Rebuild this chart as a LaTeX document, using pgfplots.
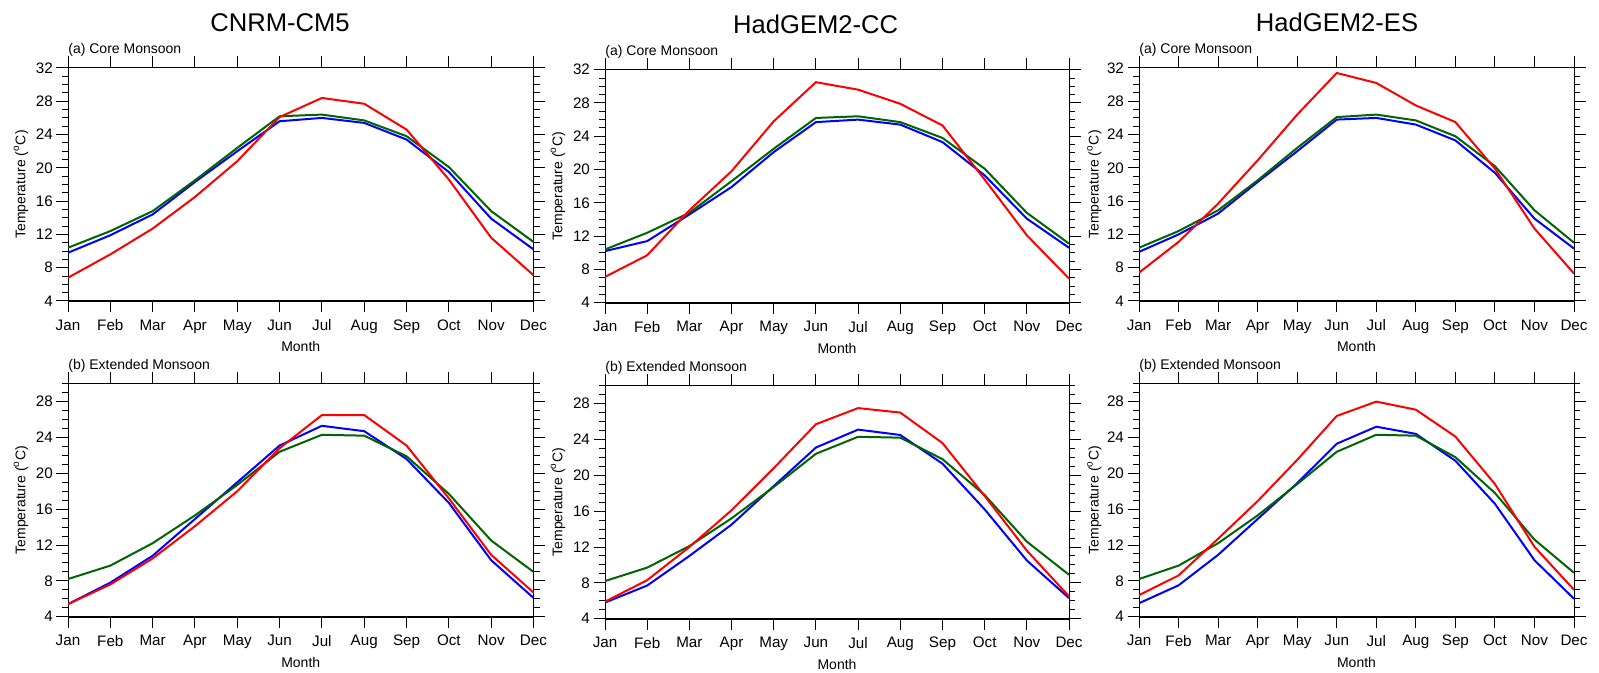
\documentclass[border=0pt]{standalone}
\usepackage{pgfplots}
\pgfplotsset{compat=1.18}
\usepackage{pgfplotstable}
\usepackage{fontspec}
\setmainfont{Liberation Sans}

\definecolor{obsgreen}{RGB}{0,100,0}

% Monthly mean temperature (deg C): columns red, green, blue series
\pgfplotstableread{
m red green blue
1  6.8 10.4  9.8
2  9.6 12.4 11.9
3 12.7 14.8 14.4
4 16.5 18.5 18.3
5 20.8 22.4 22.0
6 26.1 26.2 25.6
7 28.4 26.4 26.0
8 27.7 25.7 25.4
9 24.6 23.8 23.4
10 18.6 20.1 19.5
11 11.6 14.8 13.9
12 7.1 11.1 10.2
}\cnrmcore
\pgfplotstableread{
m red green blue
1  7.1 10.4 10.2
2  9.7 12.4 11.4
3 15.1 14.8 14.6
4 19.8 18.6 17.9
5 25.8 22.5 22.1
6 30.5 26.2 25.7
7 29.6 26.4 26.0
8 27.9 25.7 25.4
9 25.3 23.8 23.3
10 18.8 20.1 19.3
11 12.1 14.8 14.1
12 6.9 11.1 10.6
}\cccore
\pgfplotstableread{
m red green blue
1  7.4 10.4  9.9
2 11.1 12.4 12.0
3 15.7 14.9 14.5
4 20.9 18.5 18.3
5 26.4 22.4 22.0
6 31.4 26.1 25.8
7 30.2 26.4 26.0
8 27.5 25.7 25.2
9 25.5 23.8 23.3
10 19.9 20.2 19.4
11 12.7 14.9 13.9
12 7.3 11.0 10.3
}\escore
\pgfplotstableread{
m red green blue
1  5.4  8.2  5.4
2  7.6  9.7  7.8
3 10.5 12.2 10.8
4 14.1 15.3 14.9
5 18.0 18.7 19.0
6 22.8 22.4 23.1
7 26.5 24.3 25.3
8 26.5 24.2 24.7
9 23.1 21.9 21.6
10 17.2 17.7 16.7
11 10.9 12.5 10.3
12 6.7  9.0  6.1
}\cnrmext
\pgfplotstableread{
m red green blue
1  5.9  8.2  5.8
2  8.3  9.7  7.7
3 12.0 12.1 11.0
4 16.1 15.2 14.5
5 20.8 18.7 18.8
6 25.7 22.4 23.1
7 27.5 24.3 25.1
8 27.0 24.2 24.5
9 23.6 21.8 21.3
10 17.7 17.8 16.2
11 11.6 12.6 10.5
12 6.5  8.9  6.3
}\ccext
\pgfplotstableread{
m red green blue
1  6.4  8.2  5.5
2  8.6  9.7  7.5
3 12.7 12.2 10.9
4 16.9 15.3 14.9
5 21.5 18.8 18.9
6 26.4 22.4 23.3
7 28.0 24.3 25.2
8 27.1 24.2 24.4
9 24.1 21.8 21.4
10 18.8 17.8 16.6
11 11.8 12.6 10.3
12 7.0  8.9  6.0
}\esext

\pgfplotsset{
  monsoon/.style={
    scale only axis,
    height=116.5pt,
    xmin=1, xmax=12,
    xtick={1,...,12},
    xticklabels={Jan,Feb,Mar,Apr,May,Jun,Jul,Aug,Sep,Oct,Nov,Dec},
    ymin=4,
    tick align=outside,
    major tick length=5.75pt,
    minor tick length=3pt,
    tick style={black, line width=0.5pt},
    axis line style={line width=0.5pt},
    tick label style={font=\fontsize{7.6}{9}\selectfont},
    /pgf/number format/assume math mode=true,
    yticklabel style={inner sep=0pt, xshift=-1.6pt},
    xlabel={Month},
    ylabel={Temperature (\textsuperscript{o}C)},
    every axis x label/.style={at={(axis description cs:0.5,0)}, anchor=base, yshift=-25.5pt, font=\fontsize{7}{8}\selectfont},
    every axis y label/.style={at={(axis description cs:0,0.5)}, xshift=-23.5pt, rotate=90, anchor=center, font=\fontsize{7}{8}\selectfont},
    every axis title/.style={at={(axis description cs:0,1)}, anchor=base west, inner sep=0pt, yshift=7.3pt, font=\fontsize{7}{8}\selectfont},
    every axis plot/.append style={line width=1pt, mark=none},
    after end axis/.code={\draw[line width=1.1pt, black] (rel axis cs:0,0) -- (rel axis cs:1,0);},
  },
  corerow/.style={monsoon, ymax=32, ytick={4,8,...,32}, minor ytick={4,...,32}, title={(a) Core Monsoon}},
  extrow/.style={monsoon, ymax=30, ytick={4,8,...,28}, minor ytick={4,...,30}, title={(b) Extended Monsoon}},
}

\newcommand{\threelines}[1]{%
  \addplot[blue] table[x=m, y=blue] {#1};
  \addplot[obsgreen] table[x=m, y=green] {#1};
  \addplot[red] table[x=m, y=red] {#1};
}

\begin{document}
\begin{tikzpicture}
\useasboundingbox (0pt,0pt) rectangle (799.5pt,336.5pt);

% model names above each column
\node[anchor=base, inner sep=0pt, font=\fontsize{12.8}{14}\selectfont] at (140pt,320.65pt) {CNRM-CM5};
\node[anchor=base, inner sep=0pt, font=\fontsize{12.8}{14}\selectfont] at (407.85pt,319.5pt) {HadGEM2-CC};
\node[anchor=base, inner sep=0pt, font=\fontsize{12.8}{14}\selectfont] at (668.5pt,320.65pt) {HadGEM2-ES};

% CNRM-CM5
\begin{axis}[corerow, at={(34pt,186pt)}, anchor=south west, width=232.75pt]
\threelines{\cnrmcore}
\end{axis}
\begin{axis}[extrow, at={(34pt,28.15pt)}, anchor=south west, width=232.75pt]
\threelines{\cnrmext}
\end{axis}

% HadGEM2-CC
\begin{axis}[corerow, at={(302.5pt,185.15pt)}, anchor=south west, width=232pt]
\threelines{\cccore}
\end{axis}
\begin{axis}[extrow, at={(302.5pt,27.15pt)}, anchor=south west, width=232pt]
\threelines{\ccext}
\end{axis}

% HadGEM2-ES
\begin{axis}[corerow, at={(569.5pt,186pt)}, anchor=south west, width=217.5pt,
  every axis y label/.style={at={(axis description cs:0,0.5)}, xshift=-22.3pt, rotate=90, anchor=center, font=\fontsize{7}{8}\selectfont}]
\threelines{\escore}
\end{axis}
\begin{axis}[extrow, at={(569.5pt,28.15pt)}, anchor=south west, width=217.5pt,
  every axis y label/.style={at={(axis description cs:0,0.5)}, xshift=-22.3pt, rotate=90, anchor=center, font=\fontsize{7}{8}\selectfont}]
\threelines{\esext}
\end{axis}
\end{tikzpicture}
\end{document}
